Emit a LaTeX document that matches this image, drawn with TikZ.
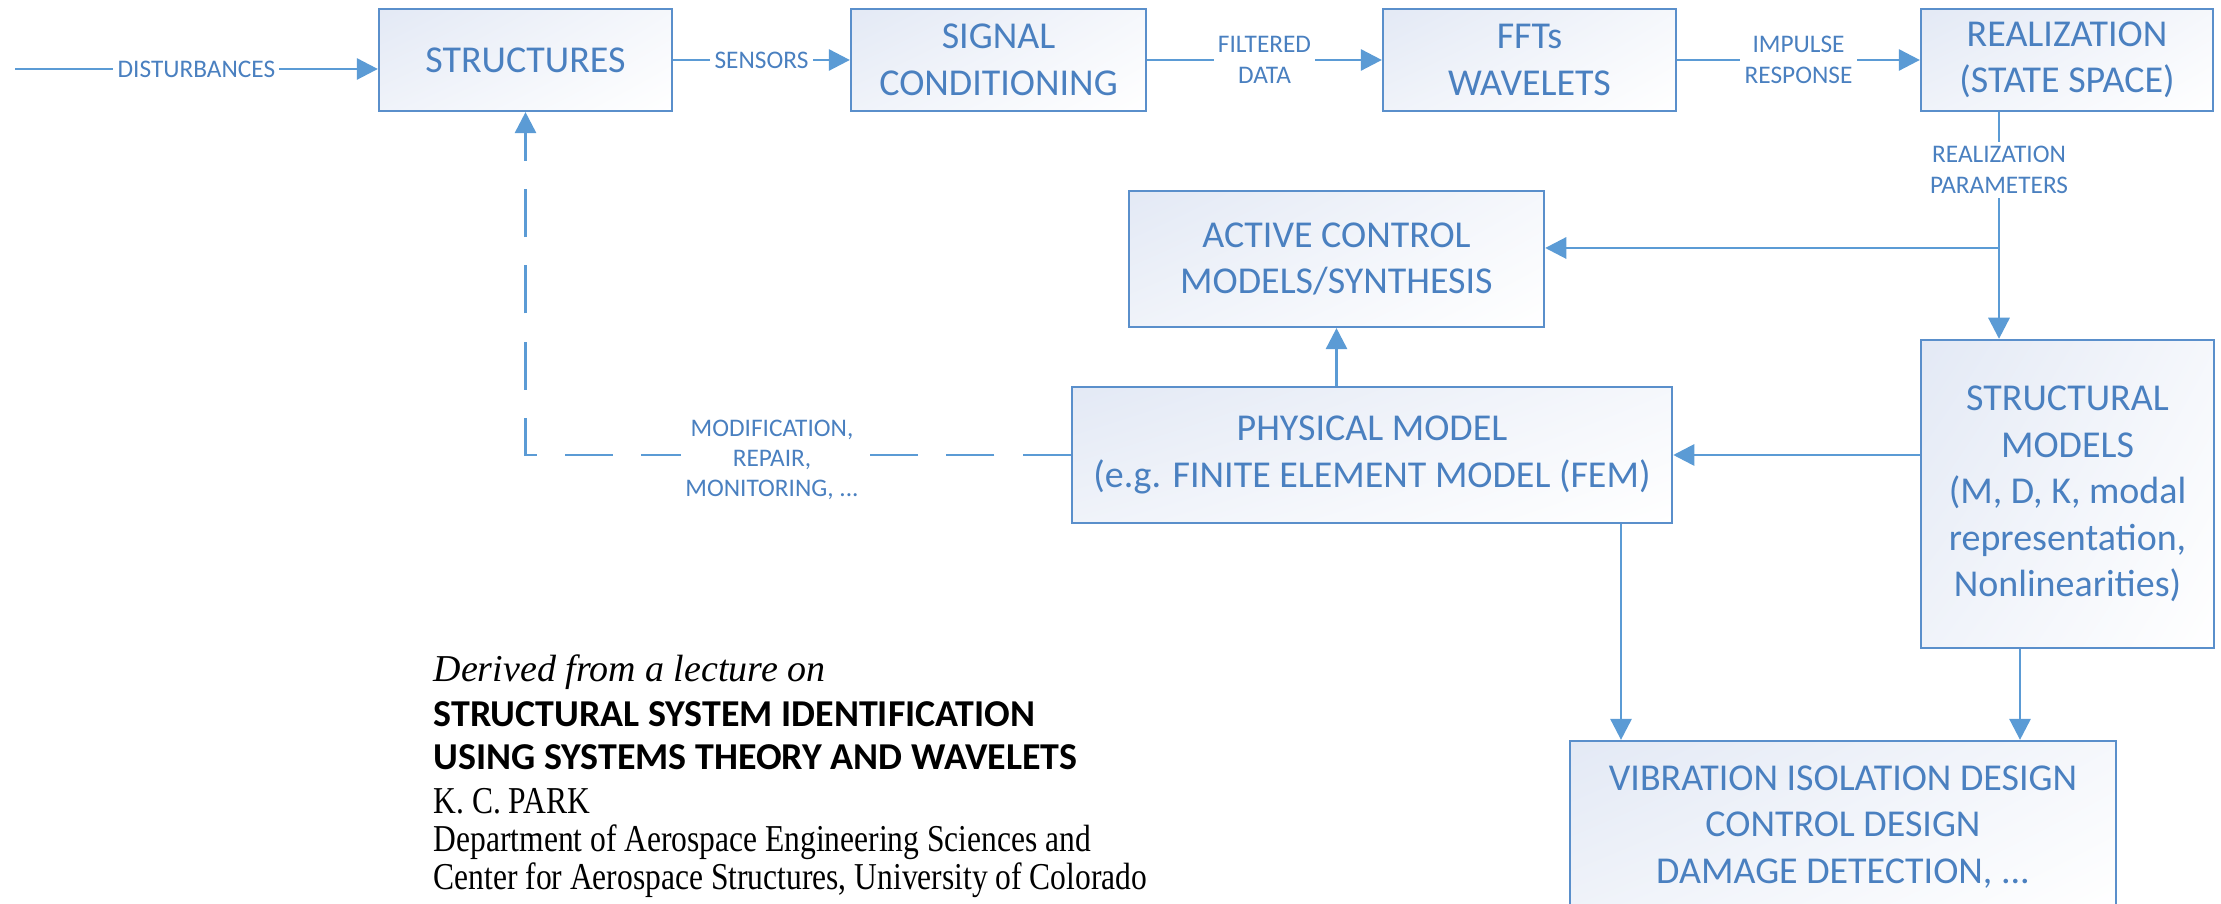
\documentclass[tikz,border=0pt]{standalone}
\usepackage{fontspec}
\usetikzlibrary{arrows.meta,shadings}
\newfontfamily\boxfont{Carlito}
\newfontfamily\serifcond[FakeStretch=0.83]{Liberation Serif}
\newfontfamily\serifit{Liberation Serif}
\definecolor{linkblue}{HTML}{5B9BD5}
\definecolor{frameblue}{HTML}{5A8FCB}
\definecolor{textblue}{HTML}{4A80C0}
\definecolor{fillblue}{HTML}{E3E9F5}
\tikzset{
  block/.style={draw=frameblue, line width=0.6pt,
    upper left=fillblue, upper right=fillblue!35, lower left=fillblue!55, lower right=white,
    inner sep=0pt, align=center, text=textblue,
    font=\boxfont\fontsize{10.8}{13.2}\selectfont},
  conn/.style={draw=linkblue, line width=0.8pt},
  arr/.style={conn, -{Triangle[length=6pt,width=6pt]}},
  tag/.style={fill=white, inner sep=1.2pt, align=center, text=textblue,
    font=\boxfont\fontsize{7.2}{8.6}\selectfont},
  footer/.style={anchor=base west, inner sep=0pt, text=black},
}
\begin{document}
\begin{tikzpicture}[x=0.01cm,y=-0.01cm]
\useasboundingbox (0,0) rectangle (2221,904);
\clip (0,0) rectangle (2221,904);

% processing chain
\node[block, minimum width=2.93cm, minimum height=1.02cm] (struct) at (525.5,60) {STRUCTURES};
\node[block, minimum width=2.95cm, minimum height=1.02cm] (sig) at (998.5,60) {SIGNAL\\CONDITIONING};
\node[block, minimum width=2.93cm, minimum height=1.02cm] (fft) at (1529.5,60) {FFTs\\WAVELETS};
\node[block, minimum width=2.92cm, minimum height=1.02cm] (real) at (2067,60) {REALIZATION\\(STATE SPACE)};

% models
\node[block, minimum width=4.15cm, minimum height=1.36cm] (act) at (1336.5,259) {ACTIVE CONTROL\\MODELS/SYNTHESIS};
\node[block, minimum width=6.00cm, minimum height=1.36cm] (phys) at (1372,455) {PHYSICAL MODEL\\(e.g. FINITE ELEMENT MODEL (FEM)};
\node[block, minimum width=2.93cm, minimum height=3.08cm] (strm) at (2067.5,494) {STRUCTURAL\\MODELS\\(M, D, K, modal\\representation,\\Nonlinearities)};
\node[block, minimum width=5.46cm, minimum height=1.72cm] (vib) at (1843,827) {VIBRATION ISOLATION DESIGN\\CONTROL DESIGN\\DAMAGE DETECTION, ...};

% signal flow
\coordinate (dstart) at (15,69);
\draw[arr] (dstart) -- node[tag] (ldist) {DISTURBANCES} (dstart -| struct.west);
\draw[arr] (struct.east) -- node[tag] (lsens) {SENSORS} (sig.west);
\draw[arr] (sig.east) -- node[tag] (lfilt) {FILTERED\\DATA} (fft.west);
\draw[arr] (fft.east) -- node[tag] (limp) {IMPULSE\\RESPONSE} (real.west);

\node[tag] (par) at (1999,170) {REALIZATION\\PARAMETERS};
\draw[conn] (par.north |- real.south) -- (par.north);
\draw[arr] (par.south) -- (par.south |- strm.north);
\coordinate (split) at (1999,248);
\draw[arr] (split) -- (split -| act.east);

\draw[arr] (act.south |- phys.north) -- (act.south);
\draw[arr] (strm.west |- phys.east) -- (phys.east);

% feedback to the structure
\draw[arr, dash pattern=on 13.7pt off 8pt] (phys.west) -| (struct.south);
\node[tag] (mod) at (772,460) {MODIFICATION,\\REPAIR,\\MONITORING, ...};

% applications
\coordinate (pv) at (1621,0);
\coordinate (sv) at (2020,0);
\draw[arr] (phys.south -| pv) -- (vib.north -| pv);
\draw[arr] (strm.south -| sv) -- (vib.north -| sv);

% credits
\node[footer, font=\serifit\itshape\fontsize{10.8}{13}\selectfont] (f1) at (433,682) {Derived from a lecture on};
\node[footer, font=\boxfont\bfseries\fontsize{10.8}{13}\selectfont] (f2) at (433,727) {STRUCTURAL SYSTEM IDENTIFICATION};
\node[footer, font=\boxfont\bfseries\fontsize{10.8}{13}\selectfont] (f3) at (433,770) {USING SYSTEMS THEORY AND WAVELETS};
\node[footer, font=\serifcond\fontsize{10.8}{13}\selectfont] (f4) at (433,814) {K. C. PARK};
\node[footer, font=\serifcond\fontsize{10.8}{13}\selectfont] (f5) at (433,852) {Department of Aerospace Engineering Sciences and};
\node[footer, font=\serifcond\fontsize{10.8}{13}\selectfont] (f6) at (433,890) {Center for Aerospace Structures, University of Colorado};
\end{tikzpicture}
\end{document}
